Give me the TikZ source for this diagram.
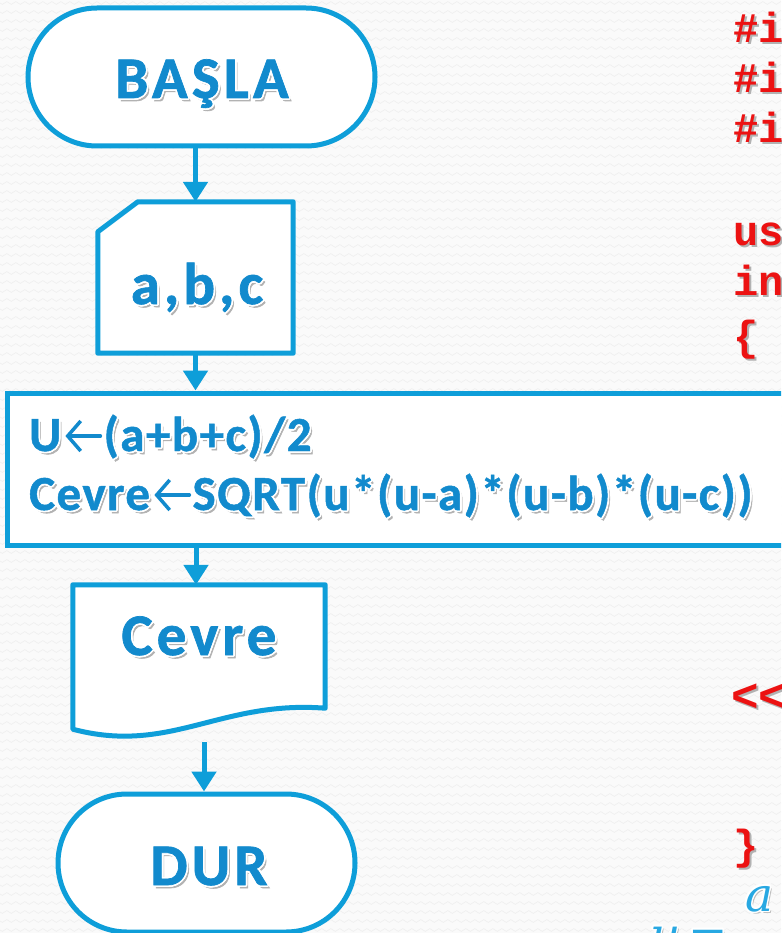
\documentclass[tikz,border=0pt]{standalone}
\usepackage{fontspec}
\setmainfont{Carlito}
\newfontfamily\bigflowfont{Carlito}[BoldFeatures={FakeBold=1.2,LetterSpace=7}]
\newfontfamily\procfont{Carlito}[BoldFeatures={FakeBold=1,LetterSpace=3}]
\newfontfamily\codefont{Liberation Mono}
\newfontfamily\formulafont{DejaVu Serif}
\usepackage[copies]{contour}
\contourlength{1.6pt}
\contournumber{24}
\usetikzlibrary{arrows.meta,calc,decorations.pathmorphing}

\definecolor{flowblue}{RGB}{14,158,217}
\definecolor{textblue}{RGB}{18,138,205}
\definecolor{codered}{RGB}{236,18,18}
\definecolor{mathblue}{RGB}{40,168,226}
\definecolor{paper}{RGB}{250,250,250}

% blue flowchart lettering with white rim and soft drop shadow
\newcommand\flowtxt[1]{\makebox[0pt][l]{\hspace{2.5pt}\raisebox{-3pt}{\textcolor{black!30}{#1}}}\textcolor{textblue}{\contour{white}{#1}}}
% red code lettering with drop shadow
\newcommand\codetxt[1]{\makebox[0pt][l]{\hspace{2pt}\raisebox{-2pt}{\textcolor{black!30}{#1}}}\textcolor{codered}{#1}}
% light blue formula lettering
\newcommand\mathtxt[1]{\makebox[0pt][l]{\hspace{2pt}\raisebox{-2pt}{\textcolor{black!25}{#1}}}\textcolor{mathblue}{\contour{white}{#1}}}

\begin{document}
\begin{tikzpicture}[x=1pt,y=-1pt,
  shapeline/.style={draw=flowblue, line width=5pt, fill=white},
  terminal/.style={shapeline, rectangle, rounded corners=69pt, minimum height=138pt},
  ghost/.style={rectangle, inner sep=0pt, draw=none},
  bigtext/.style={inner sep=0pt, anchor=base, font=\fontsize{59}{60}\selectfont\bigflowfont\bfseries},
  proctext/.style={inner sep=0pt, anchor=base west, font=\fontsize{49}{50}\selectfont\procfont\bfseries},
  codetext/.style={inner sep=0pt, anchor=base west, font=\fontsize{42}{42}\selectfont\codefont\bfseries},
  mathtext/.style={inner sep=0pt, anchor=base west, font=\fontsize{47}{47}\selectfont\formulafont\itshape},
  flowarrow/.style={draw=flowblue, line width=5pt, -{Triangle[length=20pt,width=24pt]}},
  assignarrow/.style={draw=textblue, line width=3.5pt, line cap=round,
    -{Straight Barb[length=13pt,width=30pt,line width=3.5pt]},
    preaction={draw=white, line width=7pt}}
]
\path[use as bounding box] (0,0) rectangle (781,933);
\clip (0,0) rectangle (781,933);

% textured backdrop
\fill[paper] (0,0) rectangle (781,933);
\foreach \yy in {3,12,...,939}
  \draw[black!6, line width=0.7pt, decorate,
        decoration={snake, amplitude=1.4pt, segment length=9pt}] (-5,\yy) -- (790,\yy);

% start terminal
\node[terminal, minimum width=347pt] (start) at (201.5,77) {};
\node[bigtext] (startlbl) at (202,98) {\flowtxt{BAŞLA}};

% manual input a,b,c
\node[ghost, minimum width=195pt, minimum height=151pt] (inp) at (195.5,277.5) {};
\draw[shapeline, line join=round]
  (inp.south west) -- ([yshift=-30pt]inp.north west) -- ([xshift=40pt]inp.north west)
  -- (inp.north east) -- (inp.south east) -- cycle;
\node[bigtext] (inplbl) at (197,304) {\flowtxt{a,b,c}};

% process box
\node[shapeline, rectangle, minimum width=793pt, minimum height=152pt] (proc) at (403.5,469) {};
\node[proctext] (u1) at (29,451) {\flowtxt{U}};
\draw[assignarrow] ([xshift=39pt,yshift=15pt]u1.base east) -- ([xshift=4pt,yshift=15pt]u1.base east);
\node[proctext] (l1) at ([xshift=42pt]u1.base east) {\flowtxt{(a+b+c)/2}};
\node[proctext] (c1) at (29,510) {\flowtxt{Cevre}};
\draw[assignarrow] ([xshift=39pt,yshift=15pt]c1.base east) -- ([xshift=4pt,yshift=15pt]c1.base east);
\node[proctext] (l2) at ([xshift=42pt]c1.base east) {\flowtxt{SQRT(u*(u-a)*(u-b)*(u-c))}};

% output document
\node[ghost, minimum width=252pt, minimum height=144pt] (out) at (199,657) {};
\draw[shapeline, line join=round]
  (out.north west) -- (out.north east) -- ([yshift=21pt]out.south east)
  .. controls (220,700) and (170,755) .. (out.south west) -- cycle;
\node[bigtext] (outlbl) at (199,655) {\flowtxt{Cevre}};

% stop terminal
\node[terminal, minimum width=297pt] (stop) at (206.5,863) {};
\node[bigtext] (stoplbl) at (209,885) {\flowtxt{DUR}};

% connectors
\draw[flowarrow] (inp.north |- start.south) -- (inp.north);
\draw[flowarrow] (inp.south) -- (inp.south |- proc.north);
\coordinate (outtop) at ([xshift=-3pt]out.north);
\draw[flowarrow] (outtop |- proc.south) -- (outtop);
\coordinate (outgap) at ([xshift=5pt,yshift=-13pt]out.south);
\draw[flowarrow] (outgap) -- (outgap |- stop.north);

% program listing at the right
\node[codetext] (inc1) at (733,43) {\codetxt{\#i}};
\node[codetext] (inc2) at (733,93) {\codetxt{\#i}};
\node[codetext] (inc3) at (733,143) {\codetxt{\#i}};
\node[codetext] (use) at (733,245) {\codetxt{us}};
\node[codetext] (intm) at (733,295) {\codetxt{in}};
\node[codetext] (lbr) at (733,350) {\codetxt{\{}};
\node[codetext, font=\fontsize{46}{46}\selectfont\codefont\bfseries] (outop) at (731,711) {\codetxt{<<}};
\node[codetext] (rbr) at (733,859) {\codetxt{\}}};

% Heron formula
\node[mathtext] (fa) at (745,911) {\mathtxt{a}};
\node[mathtext] (fu) at (650,951) {\mathtxt{u\,=}};
\end{tikzpicture}
\end{document}
